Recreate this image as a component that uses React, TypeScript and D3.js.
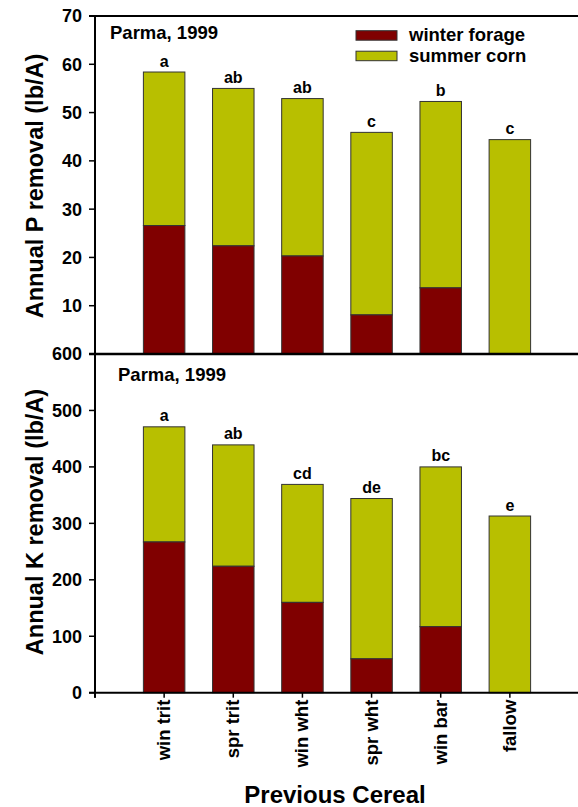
import React from "react";
import * as d3 from "d3";

const categories = ["win trit", "spr trit", "win wht", "spr wht", "win bar", "fallow"];
const pWinter = [26.6, 22.4, 20.3, 8.1, 13.7, 0];
const pTotal = [58.4, 55.0, 52.9, 45.9, 52.3, 44.4];
const pLetters = ["a", "ab", "ab", "c", "b", "c"];
const kWinter = [267, 224, 160, 60, 117, 0];
const kTotal = [471, 439, 369, 344, 400, 313];
const kLetters = ["a", "ab", "cd", "de", "bc", "e"];
const pTicks = [10, 20, 30, 40, 50, 60, 70];
const kTicks = [0, 100, 200, 300, 400, 500, 600];
const seriesNames = ["winter forage", "summer corn"];
const colors = ["#800000", "#B8BF00"];

const FONT = "Liberation Sans, Arial, Helvetica, sans-serif";

export default function App() {
  const W = 578, H = 807;
  const x = d3.scaleLinear().domain([0, 7]).range([95, 579]);
  const yP = d3.scaleLinear().domain([0, 70]).range([354, 16]);
  const yK = d3.scaleLinear().domain([0, 600]).range([692.7, 354]);
  const bw = 41.5;
  const axisLeft = 95;
  const right = 578;

  const panel = (winter: number[], total: number[], letters: string[], y: d3.ScaleLinear<number, number>) =>
    categories.map((c, i) => {
      const cx = x(i + 1);
      const w = winter[i];
      const t = total[i];
      return (
        <g key={c}>
          <rect x={cx - bw / 2} y={y(t)} width={bw} height={y(w) - y(t)} fill={colors[1]} stroke="#333" strokeWidth={1} />
          {w > 0 && (
            <rect x={cx - bw / 2} y={y(w)} width={bw} height={y(0) - y(w)} fill={colors[0]} stroke="#333" strokeWidth={1} />
          )}
          <text x={cx} y={y(t) - 5.5} textAnchor="middle" fontSize={16} fontWeight="bold" fontFamily={FONT}>
            {letters[i]}
          </text>
        </g>
      );
    });

  return (
    <svg width={W} height={H} style={{ position: "absolute", left: 0, top: 0, background: "#fff" }}>
      {panel(pWinter, pTotal, pLetters, yP)}
      {panel(kWinter, kTotal, kLetters, yK)}

      {/* axis lines */}
      <line x1={axisLeft} x2={axisLeft} y1={yP(70)} y2={yK(0) + 5} stroke="#000" strokeWidth={2} />
      <line x1={89} x2={right} y1={yP(70)} y2={yP(70)} stroke="#000" strokeWidth={2} />
      <line x1={89} x2={right} y1={yP(0)} y2={yP(0)} stroke="#000" strokeWidth={2.5} />
      <line x1={89} x2={right} y1={yK(0)} y2={yK(0)} stroke="#000" strokeWidth={2} />

      {/* P ticks */}
      {pTicks.map((t) => (
        <g key={"p" + t}>
          <line x1={89} x2={axisLeft} y1={yP(t)} y2={yP(t)} stroke="#000" strokeWidth={1.5} />
          <text x={82} y={yP(t)} dy="0.36em" textAnchor="end" fontSize={18} fontWeight="bold" fontFamily={FONT}>
            {t}
          </text>
        </g>
      ))}
      {/* K ticks */}
      {kTicks.map((t) => (
        <g key={"k" + t}>
          <line x1={89} x2={axisLeft} y1={yK(t)} y2={yK(t)} stroke="#000" strokeWidth={1.5} />
          <text x={82} y={yK(t)} dy="0.36em" textAnchor="end" fontSize={18} fontWeight="bold" fontFamily={FONT}>
            {t}
          </text>
        </g>
      ))}

      {/* x ticks */}
      {d3.range(0, 8).map((i) => (
        <line key={"xt" + i} x1={x(i)} x2={x(i)} y1={yK(0)} y2={yK(0) + 5} stroke="#000" strokeWidth={1.5} />
      ))}
      {categories.map((c, i) => (
        <text
          key={"xl" + c}
          transform={`translate(${x(i + 1) + 6},${yK(0) + 7}) rotate(-90)`}
          textAnchor="end"
          fontSize={18.5}
          fontWeight="bold"
          fontFamily={FONT}
        >
          {c}
        </text>
      ))}

      {/* panel labels */}
      <text x={110} y={39.3} fontSize={18.5} fontWeight="bold" fontFamily={FONT}>Parma, 1999</text>
      <text x={118} y={381} fontSize={18.5} fontWeight="bold" fontFamily={FONT}>Parma, 1999</text>

      {/* legend */}
      {seriesNames.map((s, i) => (
        <g key={s}>
          <rect x={356} y={30.7 + i * 20.5} width={41} height={9.5} fill={colors[i]} stroke="#333" strokeWidth={1} />
          <text x={409} y={40.7 + i * 21} fontSize={18.5} fontWeight="bold" fontFamily={FONT}>
            {s}
          </text>
        </g>
      ))}

      {/* axis titles */}
      <text transform={`translate(43,186) rotate(-90)`} textAnchor="middle" fontSize={23.5} fontWeight="bold" fontFamily={FONT}>
        Annual P removal (lb/A)
      </text>
      <text transform={`translate(43,522) rotate(-90)`} textAnchor="middle" fontSize={23.5} fontWeight="bold" fontFamily={FONT}>
        Annual K removal (lb/A)
      </text>
      <text x={335} y={803} textAnchor="middle" fontSize={24} fontWeight="bold" fontFamily={FONT}>
        Previous Cereal
      </text>
    </svg>
  );
}
